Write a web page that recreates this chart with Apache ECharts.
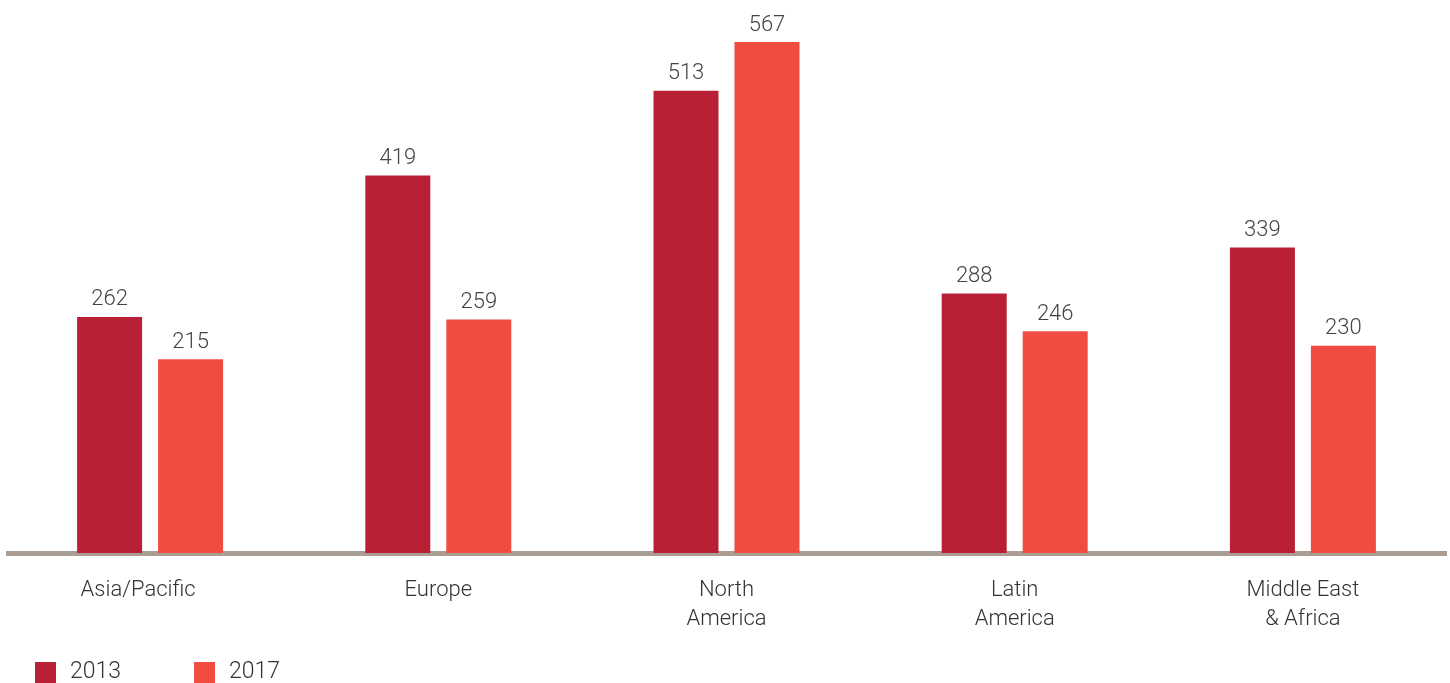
<!DOCTYPE html>
<html>
<head>
<meta charset="utf-8">
<script src="https://cdn.jsdelivr.net/npm/echarts@6/dist/echarts.min.js"></script>
<style>
  html, body { margin: 0; padding: 0; background: #fff; }
  #chart { width: 1450px; height: 683px; }
</style>
</head>
<body>
<div id="chart"></div>
<script>
  // regions along the bottom
  var categories = ["Asia/Pacific", "Europe", "North\nAmerica", "Latin\nAmerica", "Middle East\n& Africa"];
  var years = ["2013", "2017"];
  var values2013 = [262, 419, 513, 288, 339];
  var values2017 = [215, 259, 567, 246, 230];

  var FONT = "Roboto, 'Liberation Sans', sans-serif";

  var chart = echarts.init(document.getElementById("chart"));

  function barSeries(name, data, color) {
    return {
      name: name,
      type: "bar",
      data: data,
      barWidth: 65,
      barGap: "24.6%",
      itemStyle: { color: color },
      label: {
        show: true,
        position: "top",
        distance: 6,
        color: "#444",
        fontFamily: FONT,
        fontWeight: 300,
        fontSize: 22
      }
    };
  }

  // the first label sits a little left of its bars in the original
  var axisData = categories.map(function (c, i) {
    return i === 0 ? { value: c, textStyle: { padding: [0, 24, 0, 0] } } : c;
  });

  chart.setOption({
    animation: false,
    grid: { left: 6, right: 3, top: 12.3, bottom: 130, containLabel: false },
    legend: {
      left: 35,
      top: 661,
      padding: 0,
      itemWidth: 21,
      itemHeight: 21,
      itemGap: 73,
      icon: "rect",
      textStyle: { color: "#333", fontFamily: FONT, fontWeight: 300, fontSize: 23, padding: [0, 0, 0, 9] },
      data: years
    },
    xAxis: {
      type: "category",
      data: axisData,
      offset: 3,
      axisLine: { lineStyle: { color: "#aa9d93", width: 5, cap: "butt" } },
      axisTick: { show: false },
      axisLabel: {
        color: "#333",
        fontFamily: FONT,
        fontWeight: 300,
        fontSize: 22,
        lineHeight: 29,
        margin: 20
      }
    },
    yAxis: {
      type: "value",
      min: 0,
      max: 600,
      show: false,
      splitLine: { show: false }
    },
    series: [
      barSeries(years[0], values2013, "#b92035"),
      barSeries(years[1], values2017, "#f04c40")
    ]
  });
</script>
</body>
</html>
